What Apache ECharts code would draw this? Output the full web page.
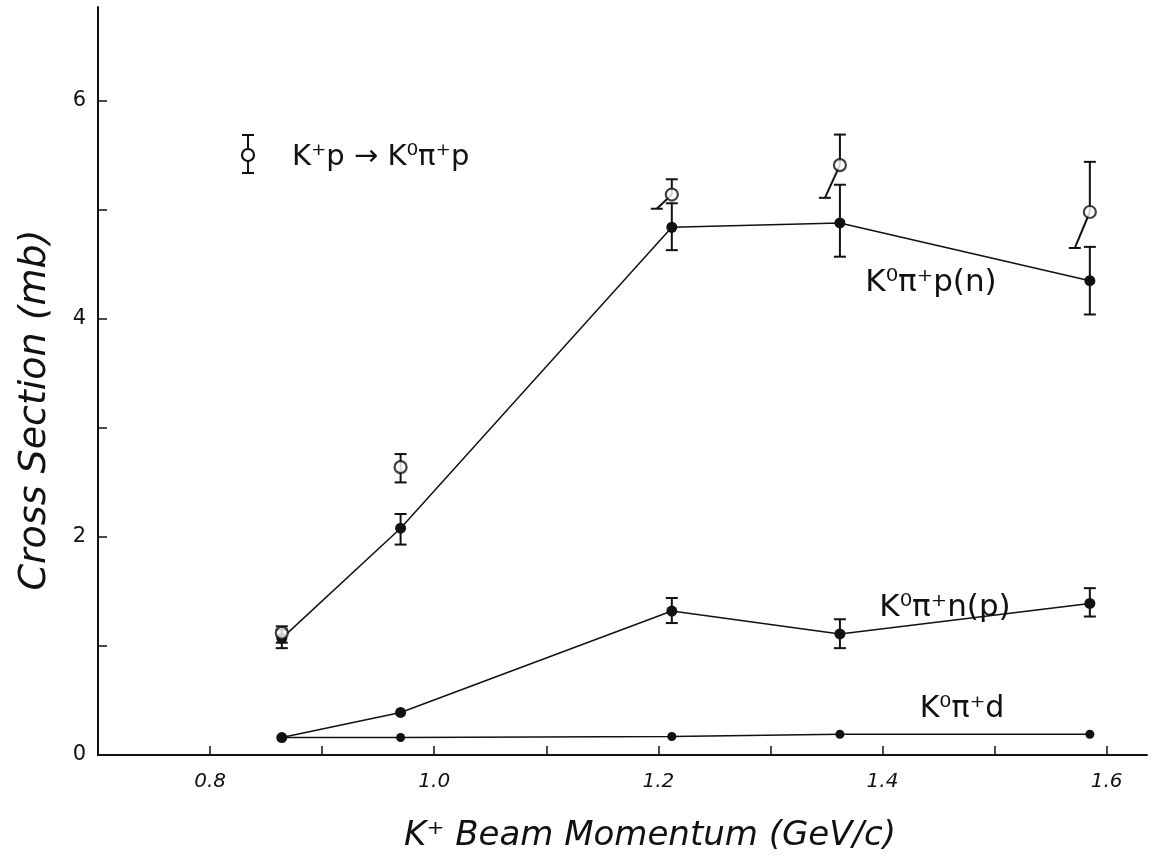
<!DOCTYPE html>
<html>
<head>
<meta charset="utf-8">
<script src="https://cdn.jsdelivr.net/npm/echarts@6/dist/echarts.min.js"></script>
<style>
  html, body { margin: 0; padding: 0; background: #fff; }
  #chart { width: 1159px; height: 862px; }
</style>
</head>
<body>
<div id="chart"></div>
<script>
// K+ beam momentum (GeV/c) of the five exposures
const momentum = [0.864, 0.970, 1.212, 1.362, 1.585];

// K+p -> K0 pi+ p, all channels (open circles)
const totalKpp     = [1.12, 2.64, 5.14, 5.41, 4.98];
const totalKppHigh = [1.18, 2.76, 5.28, 5.69, 5.44];
const totalKppLow  = [1.03, 2.50, 5.01, 5.11, 4.65];

// K0 pi+ p (n)
const k0pipPn     = [1.07, 2.08, 4.84, 4.88, 4.35];
const k0pipPnHigh = [1.15, 2.21, 5.06, 5.23, 4.66];
const k0pipPnLow  = [0.98, 1.93, 4.63, 4.57, 4.04];

// K0 pi+ n (p)
const k0pipNp     = [0.16, 0.39, 1.32, 1.11, 1.39];
const k0pipNpHigh = [null, null, 1.44, 1.245, 1.53];
const k0pipNpLow  = [null, null, 1.21, 0.98, 1.27];

// K0 pi+ d
const k0pipD = [0.16, 0.16, 0.17, 0.19, 0.19];

// Axis ticks and labels
const xTickValues = [0.8, 0.9, 1.0, 1.1, 1.2, 1.3, 1.4, 1.5, 1.6];
const xTickLabels = ['0.8', '1.0', '1.2', '1.4', '1.6'];
const yTickValues = [1, 2, 3, 4, 5, 6];
const yTickLabels = ['0', '2', '4', '6'];

const FONT = "'DejaVu Sans', sans-serif";
const INK = '#111';

// lower bar of the open-circle points is drawn slanted where it would collide
const slantLower = [false, false, true, true, true];

function pairs(xs, ys) {
  return xs.map((x, i) => [x, ys[i]]);
}

function errorBars(name, xs, mids, lows, highs, slant) {
  const data = [];
  xs.forEach((x, i) => {
    if (highs[i] != null && lows[i] != null) {
      data.push([x, lows[i], highs[i], mids[i], slant ? (slant[i] ? 1 : 0) : 0]);
    }
  });
  return {
    name: name,
    type: 'custom',
    z: 2,
    silent: true,
    data: data,
    encode: { x: 0, y: [1, 2] },
    renderItem: function (params, api) {
      const x = api.value(0);
      const lo = api.coord([x, api.value(1)]);
      const hi = api.coord([x, api.value(2)]);
      const mid = api.coord([x, api.value(3)]);
      const sl = api.value(4) === 1;
      const cap = 6;
      const st = { stroke: INK, lineWidth: 2 };
      const children = [
        { type: 'line', shape: { x1: mid[0], y1: mid[1], x2: hi[0], y2: hi[1] }, style: st },
        { type: 'line', shape: { x1: hi[0] - cap, y1: hi[1], x2: hi[0] + cap, y2: hi[1] }, style: st }
      ];
      if (sl) {
        const ex = lo[0] - 15;
        children.push({ type: 'line', shape: { x1: mid[0], y1: mid[1], x2: ex, y2: lo[1] }, style: st });
        children.push({ type: 'line', shape: { x1: ex - cap, y1: lo[1], x2: ex + cap, y2: lo[1] }, style: st });
      } else {
        children.push({ type: 'line', shape: { x1: mid[0], y1: mid[1], x2: lo[0], y2: lo[1] }, style: st });
        children.push({ type: 'line', shape: { x1: lo[0] - cap, y1: lo[1], x2: lo[0] + cap, y2: lo[1] }, style: st });
      }
      return { type: 'group', children: children };
    }
  };
}

function curve(name, ys, size) {
  return {
    name: name,
    type: 'line',
    z: 3,
    data: pairs(momentum, ys),
    symbol: 'circle',
    symbolSize: size,
    showSymbol: true,
    lineStyle: { color: INK, width: 1.5 },
    itemStyle: { color: INK },
    emphasis: { disabled: true },
    animation: false
  };
}

const chart = echarts.init(document.getElementById('chart'), null, { renderer: 'canvas' });

chart.setOption({
  backgroundColor: '#fff',
  animation: false,
  grid: { left: 98, right: 12, top: 7, bottom: 107, containLabel: false },
  xAxis: {
    type: 'value',
    min: 0.7,
    max: 1.636,
    axisLine: { show: true, onZero: false, lineStyle: { color: INK, width: 2 } },
    axisTick: { show: true, inside: true, length: 9, customValues: xTickValues, lineStyle: { color: INK, width: 1.5 } },
    axisLabel: {
      customValues: xTickLabels.map(Number),
      formatter: v => v.toFixed(1),
      margin: 17,
      fontFamily: FONT,
      fontStyle: 'italic',
      fontSize: 20,
      color: INK
    },
    splitLine: { show: false }
  },
  yAxis: {
    type: 'value',
    min: 0,
    max: 6.86,
    axisLine: { show: true, lineStyle: { color: INK, width: 2 } },
    axisTick: { show: true, inside: true, length: 9, customValues: yTickValues, lineStyle: { color: INK, width: 1.5 } },
    axisLabel: {
      customValues: yTickLabels.map(Number),
      formatter: v => String(v),
      margin: 12,
      fontFamily: FONT,
      fontSize: 21,
      color: INK
    },
    splitLine: { show: false }
  },
  series: [
    errorBars('K0pi+p(n) errors', momentum, k0pipPn, k0pipPnLow, k0pipPnHigh, null),
    errorBars('K0pi+n(p) errors', momentum, k0pipNp, k0pipNpLow, k0pipNpHigh, null),
    errorBars('K+p errors', momentum, totalKpp, totalKppLow, totalKppHigh, slantLower),
    curve('K0pi+p(n)', k0pipPn, 11),
    curve('K0pi+n(p)', k0pipNp, 11),
    curve('K0pi+d', k0pipD, 9),
    {
      name: 'K+p -> K0pi+p',
      type: 'scatter',
      z: 4,
      data: pairs(momentum, totalKpp),
      symbol: 'circle',
      symbolSize: 12,
      itemStyle: { color: '#fff', borderColor: INK, borderWidth: 2.2 },
      emphasis: { disabled: true }
    }
  ],
  graphic: [
    // axis titles
    {
      type: 'text',
      x: 650, y: 836,
      style: {
        text: 'K\u207A Beam Momentum (GeV/c)',
        font: 'italic 34px ' + FONT,
        fill: INK,
        align: 'center',
        verticalAlign: 'middle'
      }
    },
    {
      type: 'text',
      x: 35, y: 410,
      rotation: Math.PI / 2,
      style: {
        text: 'Cross Section (mb)',
        font: 'italic 38px ' + FONT,
        fill: INK,
        align: 'center',
        verticalAlign: 'middle'
      }
    },
    // curve labels
    {
      type: 'text', x: 931, y: 283,
      style: { text: 'K\u2070\u03C0\u207Ap(n)', font: '31px ' + FONT, fill: INK, align: 'center', verticalAlign: 'middle' }
    },
    {
      type: 'text', x: 945, y: 608,
      style: { text: 'K\u2070\u03C0\u207An(p)', font: '31px ' + FONT, fill: INK, align: 'center', verticalAlign: 'middle' }
    },
    {
      type: 'text', x: 962, y: 709,
      style: { text: 'K\u2070\u03C0\u207Ad', font: '30px ' + FONT, fill: INK, align: 'center', verticalAlign: 'middle' }
    },
    // key for the open-circle points
    {
      type: 'group', x: 248, y: 155,
      children: [
        { type: 'line', shape: { x1: 0, y1: -20, x2: 0, y2: 18 }, style: { stroke: INK, lineWidth: 2 } },
        { type: 'line', shape: { x1: -6, y1: -20, x2: 6, y2: -20 }, style: { stroke: INK, lineWidth: 2 } },
        { type: 'line', shape: { x1: -6, y1: 18, x2: 6, y2: 18 }, style: { stroke: INK, lineWidth: 2 } },
        { type: 'circle', shape: { cx: 0, cy: 0, r: 6 }, style: { fill: '#fff', stroke: INK, lineWidth: 2.2 } }
      ]
    },
    {
      type: 'text', x: 292, y: 157,
      style: { text: 'K\u207Ap \u2192 K\u2070\u03C0\u207Ap', font: '29px ' + FONT, fill: INK, align: 'left', verticalAlign: 'middle' }
    }
  ]
});
</script>
</body>
</html>
